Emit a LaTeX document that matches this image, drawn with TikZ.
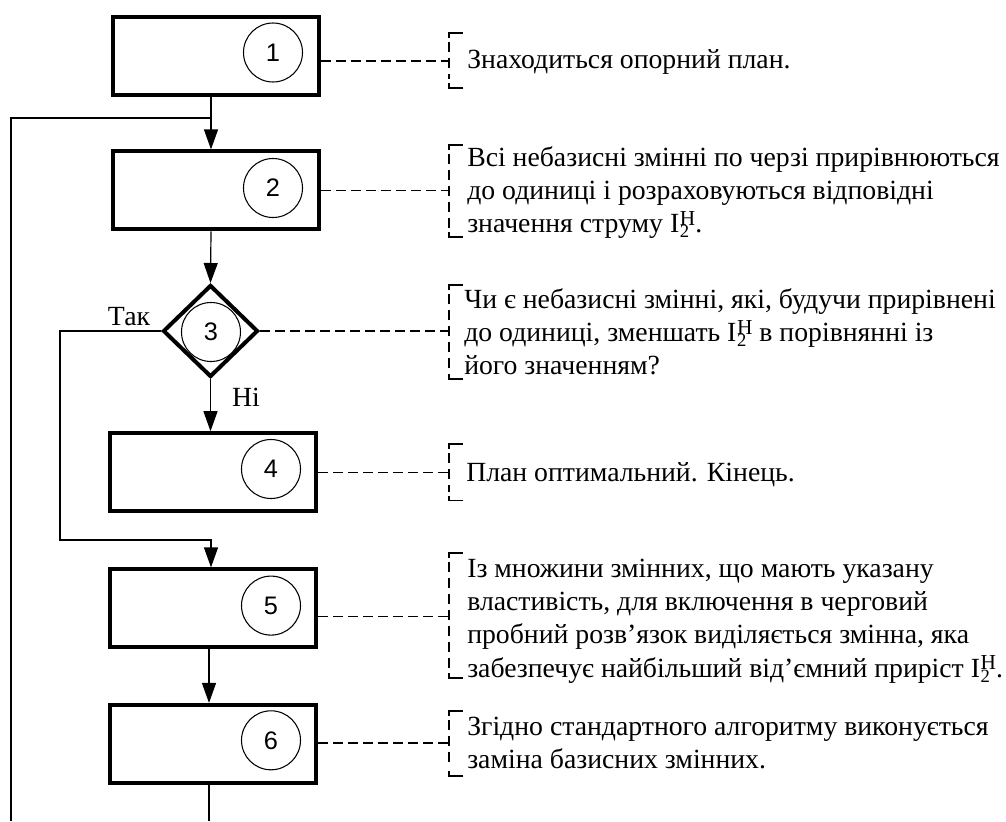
\documentclass[tikz,border=0pt]{standalone}
\usepackage{fontspec}
\setmainfont{Liberation Serif}
\newfontfamily\numfont{Liberation Sans}
\usetikzlibrary{shapes.geometric,arrows.meta}
\newcommand\IH{I\kern0.5pt\rlap{\raisebox{-3.75pt}{\fontsize{14}{14}\selectfont 2}}\smash{\raisebox{5.5pt}{\fontsize{16}{16}\selectfont H}}}
\begin{document}
\begin{tikzpicture}[x=0.75pt,y=-0.75pt,
 blk/.style={draw,line width=3pt,minimum width=154.5pt,minimum height=58.5pt,inner sep=0pt},
 dec/.style={draw,diamond,line width=3pt,minimum width=71.25pt,minimum height=69pt,inner sep=0pt},
 num/.style={draw,circle,line width=0.8pt,minimum size=44.25pt,inner sep=0pt,font=\numfont\fontsize{19}{19}\selectfont},
 flow/.style={line width=0.9pt,-{Triangle[length=15pt,width=10.5pt]}},
 plain/.style={line width=0.9pt},
 conn/.style={line width=0.9pt,dash pattern=on 7.5pt off 3.75pt},
 brk/.style={line width=0.9pt,dash pattern=on 7.5pt off 4.5pt},
 tick/.style={line width=0.9pt},
 desc/.style={anchor=base west,inner sep=0pt,font=\fontsize{20.8}{25}\selectfont},
 lbl/.style={anchor=base,inner sep=0pt,font=\fontsize{20.8}{25}\selectfont}]
\useasboundingbox (0,0) rectangle (1006,821);
% blocks
\node[blk] (b1) at (216,56) {};
\node[num] (c1) at (273,52.5) {1};
\node[blk] (b2) at (216,190.4) {};
\node[num] (c2) at (273,188) {2};
\node[dec] (d3) at (210.5,331) {};
\node[num] (c3) at (211,332) {3};
\node[blk] (b4) at (213,472.2) {};
\node[num] (c4) at (271,469) {4};
\node[blk] (b5) at (213,608.4) {};
\node[num] (c5) at (271,605.6) {5};
\node[blk] (b6) at (213,743.9) {};
\node[num] (c6) at (271,740.3) {6};
% flow coordinates
\coordinate (j) at (211,118);
\coordinate (lb) at (11,821);
\coordinate (yc) at (60,540);
\coordinate (k) at (209,0);
\coordinate (e6) at (209,821);
% flow lines
\draw[flow] (b1.south -| j) -- (b2.north -| j);
\draw[plain] (lb) |- (j);
\draw[flow] (b2.south -| j) -- (d3.north);
\draw[flow] (d3.south) -- (b4.north -| d3);
\draw[flow] (d3.west) -| (yc) -| (b5.north -| j);
\draw[flow] (b5.south -| k) -- (b6.north -| k);
\draw[plain] (b6.south -| k) -- (e6);
% labels
\node[lbl] (tak) at (129,325) {Так};
\node[lbl] (ni) at (246,406.7) {Ні};
% annotation coordinates
\coordinate (r1) at (449,61);
\coordinate (r2) at (449,190.5);
\coordinate (r3) at (449,331);
\coordinate (r4) at (449,472.3);
\coordinate (r5) at (449,616.7);
\coordinate (r6) at (449,743);
\draw[conn] (b1.east |- r1) -- (r1);
\draw[conn] (b2.east |- r2) -- (r2);
\draw[conn] (d3.east) -- (r3);
\draw[conn] (b4.east |- r4) -- (r4);
\draw[conn] (b5.east |- r5) -- (r5);
\draw[conn] (b6.east |- r6) -- (r6);
% brackets
\foreach \t/\b in {33/88,145/237,285/379,444/500.7,553/678,711/776}{
  \draw[tick] (463,\t) -- (449,\t) -- (449,\t+5);
  \draw[tick] (463,\b) -- (449,\b) -- (449,\b-5);
  \draw[brk] (449,\t+9) -- (449,\b-9);
}
% texts
\node[desc] (t1) at (467,68) {Знаходиться опорний план.};
\node[desc] (t2) at (467,166) {\begin{tabular}[t]{@{}l@{}}Всі небазисні змінні по черзі прирівнюються\\до одиниці і розраховуються відповідні\\значення струму \IH.\end{tabular}};
\node[desc] (t3) at (464,308) {\begin{tabular}[t]{@{}l@{}}Чи є небазисні змінні, які, будучи прирівнені\\до одиниці, зменшать \IH{} в порівнянні із\\його значенням?\end{tabular}};
\node[desc] (t4) at (466,481.7) {План оптимальний. Кінець.};
\node[desc] (t5) at (467,577) {\begin{tabular}[t]{@{}l@{}}Із множини змінних, що мають указану\\властивість, для включення в черговий\\пробний розв’язок виділяється змінна, яка\\забезпечує найбільший від’ємний приріст \IH.\end{tabular}};
\node[desc] (t6) at (467,735) {\begin{tabular}[t]{@{}l@{}}Згідно стандартного алгоритму виконується\\заміна базисних змінних.\end{tabular}};
\end{tikzpicture}
\end{document}
